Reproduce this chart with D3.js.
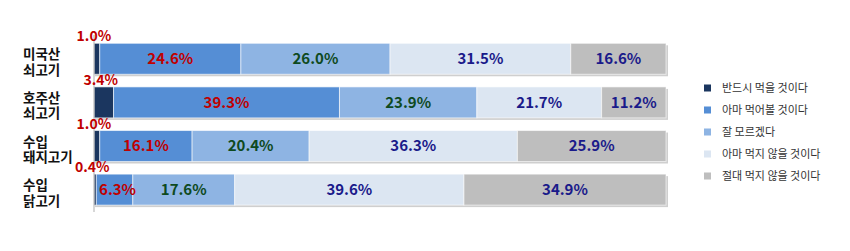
<!DOCTYPE html>
<html><head><meta charset="utf-8">
<script src="https://cdn.jsdelivr.net/npm/d3@7"></script>
<style>
html,body{margin:0;padding:0;background:#fff;}
svg{display:block;font-family:"Noto Sans CJK KR","Noto Sans",sans-serif;}
</style></head>
<body><svg id="c" width="850" height="251"></svg>
<script>
const categories = [["미국산","쇠고기"],["호주산","쇠고기"],["수입","돼지고기"],["수입","닭고기"]];
const seriesNames = ["반드시 먹을 것이다","아마 먹어볼 것이다","잘 모르겠다","아마 먹지 않을 것이다","절대 먹지 않을 것이다"];
const mustEat   = [1.0, 3.4, 1.0, 0.4];
const mayEat    = [24.6, 39.3, 16.1, 6.3];
const unsure    = [26.0, 23.9, 20.4, 17.6];
const mayNotEat = [31.5, 21.7, 36.3, 39.6];
const neverEat  = [16.6, 11.2, 25.9, 34.9];

const series = [mustEat, mayEat, unsure, mayNotEat, neverEat];
const fills = ["#1B365F", "#558ED5", "#8EB4E3", "#DCE6F2", "#BEBEBE"];
const textColors = ["#C00000", "#C00000", "#0E4A1E", "#1A1A8A", "#1A1A8A"];

const svg = d3.select("#c");
const x = d3.scaleLinear().domain([0, 1]).range([94, 666]);
const y = d3.scaleBand().domain(d3.range(categories.length)).range([43.3, 205.1]).paddingInner(0.29).paddingOuter(0);

// 100% stacked: each row normalised by its total
const rows = categories.map((c, i) => {
  const total = d3.sum(series, s => s[i]);
  let acc = 0;
  return series.map((s, k) => {
    const v = s[i];
    const seg = {row: i, k, v, x0: acc / total, x1: (acc + v) / total};
    acc += v; return seg;
  });
});

// shadows
svg.append("g").selectAll("rect").data(d3.range(categories.length)).join("rect")
  .attr("x", x(0) + 1).attr("y", d => y(d) + 2)
  .attr("width", x(1) - x(0) + 1)
  .attr("height", y.bandwidth())
  .attr("fill", "#cfcfcf");

const segs = rows.flat();
svg.append("g").selectAll("rect").data(segs).join("rect")
  .attr("x", d => x(d.x0)).attr("y", d => y(d.row))
  .attr("width", d => x(d.x1) - x(d.x0)).attr("height", y.bandwidth())
  .attr("fill", d => fills[d.k])
  .attr("stroke", "#ffffff").attr("stroke-opacity", 0.6).attr("stroke-width", 1);

// axis line
svg.append("line").attr("x1", x(0)).attr("x2", x(0)).attr("y1", 35).attr("y2", 212)
  .attr("stroke", "#bdbdbd").attr("stroke-width", 1.2);

// inner labels
svg.append("g").selectAll("text").data(segs.filter(d => d.k > 0)).join("text")
  .attr("x", d => x((d.x0 + d.x1) / 2) + (d.k === 1 && d.v < 8 ? 3 : 0))
  .attr("y", d => y(d.row) + y.bandwidth() / 2)
  .attr("dy", "0.36em")
  .attr("text-anchor", "middle")
  .attr("font-size", 15).attr("font-weight", "bold")
  .attr("fill", d => textColors[d.k])
  .text(d => d.v.toFixed(1) + "%");

// small first-segment labels above
svg.append("g").selectAll("text").data(segs.filter(d => d.k === 0)).join("text")
  .attr("x", d => x(d.x1 / 2) - 3)
  .attr("y", d => y(d.row) - 2)
  .attr("text-anchor", "middle")
  .attr("font-size", 14).attr("font-weight", "bold")
  .attr("fill", textColors[0])
  .text(d => d.v.toFixed(1) + "%");

// category labels
const cat = svg.append("g").selectAll("text").data(categories).join("text")
  .attr("x", 23)
  .attr("y", (d, i) => y(i) + y.bandwidth() / 2 + 0.5)
  .attr("font-size", 13.5).attr("font-weight", "bold").attr("fill", "#111");
cat.selectAll("tspan").data(d => d).join("tspan")
  .attr("x", 23).attr("dy", (d, j) => j === 0 ? 0 : 15.5)
  .text(d => d);

// legend
const lg = svg.append("g").selectAll("g").data(seriesNames).join("g")
  .attr("transform", (d, i) => `translate(704, ${88 + i * 22})`);
lg.append("rect").attr("x", 0).attr("y", -3.5).attr("width", 7).attr("height", 7)
  .attr("fill", (d, i) => fills[i]);
lg.append("text").attr("x", 18).attr("y", 0).attr("dy", "0.36em")
  .attr("font-size", 11).attr("fill", "#333").text(d => d);
</script></body></html>
